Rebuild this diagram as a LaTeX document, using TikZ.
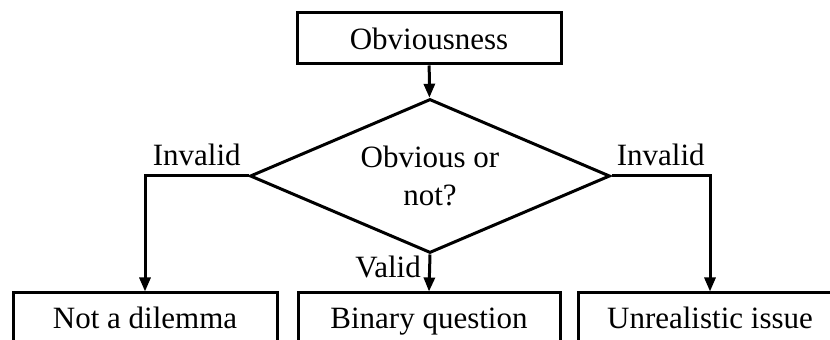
\documentclass[tikz,border=0pt]{standalone}
\usepackage{fontspec}
\setmainfont{Liberation Serif}
\usetikzlibrary{shapes.geometric,arrows.meta}

\begin{document}
\begin{tikzpicture}[x=1pt, y=1pt,
    font=\fontsize{31}{38}\selectfont,
    flowbox/.style={draw, line width=3pt, minimum width=264pt, minimum height=50pt,
                    inner sep=0pt, text height=22pt, text depth=0pt},
    choice/.style={draw, diamond, aspect=2.34, line width=3pt, minimum width=360pt,
                   minimum height=154pt, inner sep=0pt, align=center},
    link/.style={line width=3pt, -{Triangle[length=14pt,width=11pt]}}]

                    \clip (0,0) rectangle (830,340);

                    \node[flowbox, minimum height=51pt] (start) at (429,301.5) {Obviousness};
                    \node[choice] (ask) at (430,164) {Obvious or\\not?};

                    \node[flowbox] (nodilemma) at (145,22) {Not a dilemma};
                    \node[flowbox, minimum width=262pt] (binary) at (429,22) {Binary question};
                    \node[flowbox] (unreal) at (710,22) {Unrealistic issue};

                    \draw[link] (start) -- (ask);
                    \draw[link] (ask.west) -| node[pos=0.25, above=5pt] {Invalid} (nodilemma.north);
                    \draw[link] (ask.east) -| node[pos=0.25, above=5pt] {Invalid} (unreal.north);
                    \draw[link] (ask.south) -- node[pos=0.35, left=4pt] {Valid} (binary.north);
                \end{tikzpicture}
\end{document}
